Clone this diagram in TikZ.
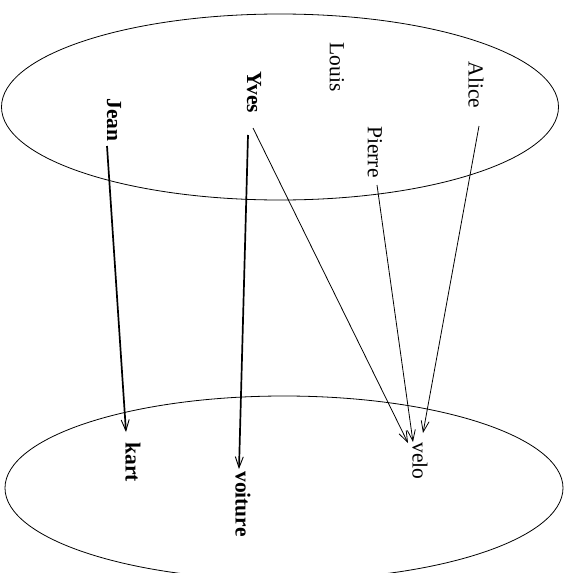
\documentclass[tikz,border=0pt]{standalone}
\usepackage{fontspec}
\setmainfont{Liberation Serif}
\usetikzlibrary{arrows.meta,shapes.geometric}
\begin{document}
\begin{tikzpicture}[x=1pt,y=-1pt,
  lbl/.style={rotate=-90,inner sep=0pt,font=\fontsize{21.5}{24}\selectfont},
  blbl/.style={lbl,font=\fontsize{21.5}{24}\selectfont\bfseries},
  setell/.style={draw,ellipse,inner sep=0pt,line width=0.8pt},
  arr/.style={line width=0.8pt,-{Straight Barb[length=11pt,width=8pt,line width=0.8pt]}},
  tarr/.style={line width=1.7pt,-{Straight Barb[length=11pt,width=8pt,line width=0.9pt]}}]
\useasboundingbox (0,0) rectangle (574,573);
% sets
\node[setell,minimum width=557pt,minimum height=186pt] (top) at (280,107) {};
\node[setell,minimum width=558pt,minimum height=184pt] (bot) at (284,488) {};
% people
\node[blbl] (Jean) at (114,120) {Jean};
\node[blbl] (Yves) at (254,92) {Yves};
\node[lbl] (Louis) at (337,67) {Louis};
\node[lbl] (Pierre) at (375,152) {Pierre};
\node[lbl] (Alice) at (476,85) {Alice};
% vehicles
\node[blbl] (kart) at (133,462) {kart};
\node[blbl] (voiture) at (243,504) {voiture};
\node[lbl] (velo) at (420,461) {velo};
% connector ends
\coordinate (jS) at (107,146);
\coordinate (yS1) at (248,135);
\coordinate (yS2) at (253,128);
\coordinate (pS) at (377,185);
\coordinate (aS) at (479,126);
\coordinate (kT) at (126,432);
\coordinate (vT) at (239,469);
\coordinate (b1) at (408,443);
\coordinate (b2) at (413,442);
\coordinate (b3) at (423,433);
\draw[tarr] (jS) -- (kT);
\draw[tarr] (yS1) -- (vT);
\draw[arr] (yS2) -- (b1);
\draw[arr] (pS) -- (b2);
\draw[arr] (aS) -- (b3);
\end{tikzpicture}
\end{document}
